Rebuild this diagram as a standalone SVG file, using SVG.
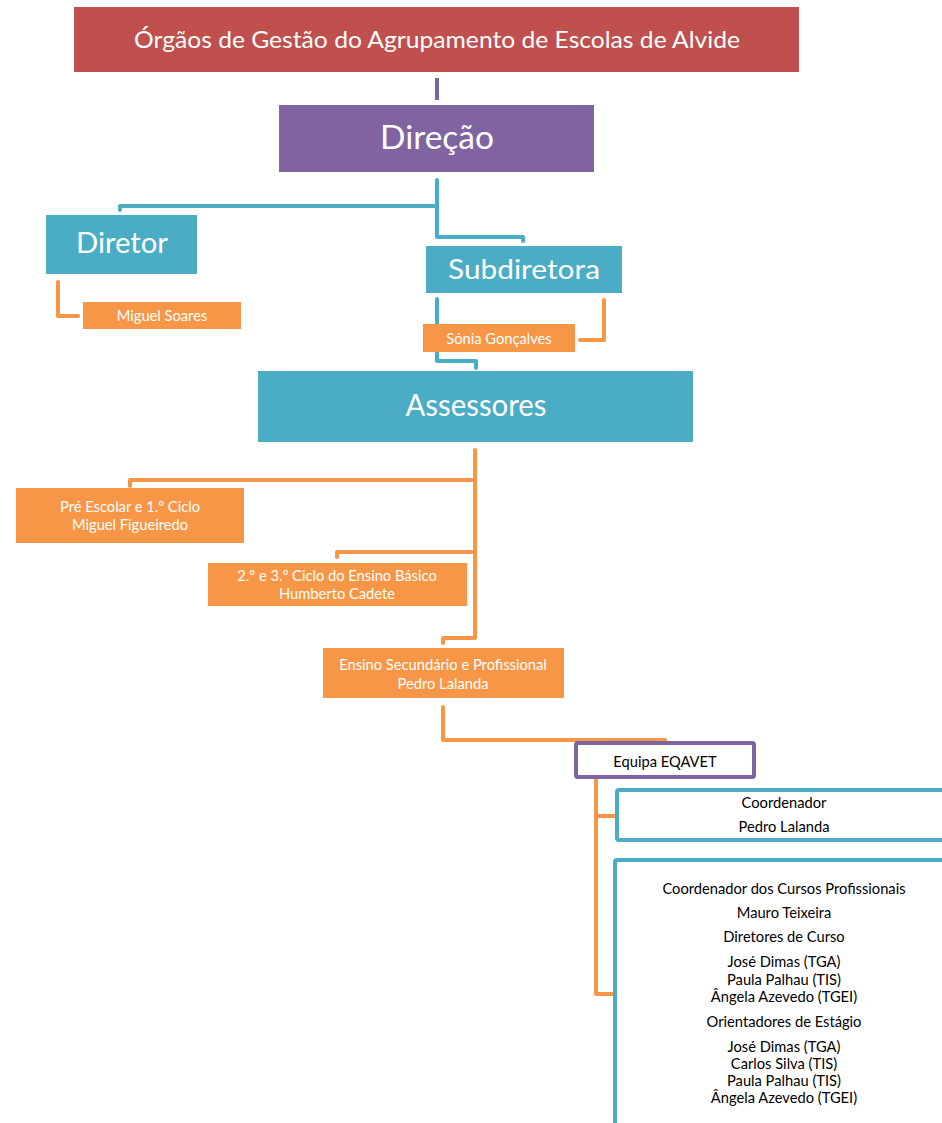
<svg xmlns="http://www.w3.org/2000/svg" width="942" height="1123" viewBox="0 0 942 1123">
<style>
text{font-family:Lato,"Open Sans","DejaVu Sans",sans-serif;text-anchor:middle}
.w{fill:#fff}
.k{fill:#000;font-size:14.7px}
.s{font-size:14.7px}
.red{fill:#C0504D}
.pur{fill:#8064A2}
.blu{fill:#4BACC6}
.org{fill:#F79646}
.cb{fill:none;stroke:#4BACC6;stroke-width:4;stroke-linejoin:round;stroke-linecap:round}
.co{fill:none;stroke:#F79646;stroke-width:4;stroke-linejoin:round;stroke-linecap:round}
.cp{fill:none;stroke:#8064A2;stroke-width:4}
.ob{fill:#fff;stroke:#4BACC6;stroke-width:4}
.op{fill:#fff;stroke:#8064A2;stroke-width:4}
</style>
<g id="connectors">
<path class="cp" d="M437,78 V100"/>
<path class="cb" d="M437,180 V237 H523 V241"/>
<path class="cb" d="M437,206 H120 V210"/>
<path class="co" d="M58,282 V316 H78"/>
<path class="cb" d="M437,299 V361 H476 V368"/>
<path class="co" d="M604,300 V340 H580"/>
<path class="co" d="M475,450 V638 H443 V643"/>
<path class="co" d="M475,480 H130 V486"/>
<path class="co" d="M475,552 H337 V557"/>
<path class="co" d="M443,707 V740 H665 V745"/>
<path class="co" d="M596,780 V994 H614"/>
<path class="co" d="M596,816 H617"/>
</g>
<g id="title">
<rect class="red" x="74" y="7" width="725" height="65"/>
<text class="w" x="437" y="48" font-size="24" textLength="606" lengthAdjust="spacingAndGlyphs">Órgãos de Gestão do Agrupamento de Escolas de Alvide</text>
</g>
<g id="direcao">
<rect class="pur" x="279" y="105" width="315" height="67"/>
<text class="w" x="437" y="149" font-size="32" textLength="114" lengthAdjust="spacingAndGlyphs">Direção</text>
</g>
<g id="diretor">
<rect class="blu" x="46" y="215" width="151" height="59"/>
<text class="w" x="122" y="253" font-size="28" textLength="92" lengthAdjust="spacingAndGlyphs">Diretor</text>
</g>
<g id="miguel-soares">
<rect class="org" x="83" y="302" width="158" height="27"/>
<text class="w s" x="162" y="321">Miguel Soares</text>
</g>
<g id="subdiretora">
<rect class="blu" x="426" y="246" width="196" height="47"/>
<text class="w" x="524" y="279" font-size="26" textLength="152" lengthAdjust="spacingAndGlyphs">Subdiretora</text>
</g>
<g id="sonia">
<rect class="org" x="423" y="324" width="152" height="28"/>
<text class="w s" x="499" y="344">Sónia Gonçalves</text>
</g>
<g id="assessores">
<rect class="blu" x="258" y="371" width="435" height="71"/>
<text class="w" x="476" y="416" font-size="30" textLength="141" lengthAdjust="spacingAndGlyphs">Assessores</text>
</g>
<g id="pre-escolar">
<rect class="org" x="16" y="488" width="228" height="55"/>
<text class="w s" x="130" y="512">Pré Escolar e 1.º Ciclo</text>
<text class="w s" x="130" y="530">Miguel Figueiredo</text>
</g>
<g id="ciclo23">
<rect class="org" x="208" y="563" width="259" height="43"/>
<text class="w s" x="337" y="581">2.º e 3.º Ciclo do Ensino Básico</text>
<text class="w s" x="337" y="599">Humberto Cadete</text>
</g>
<g id="secundario">
<rect class="org" x="323" y="648" width="241" height="50"/>
<text class="w s" x="443" y="670">Ensino Secundário e Profissional</text>
<text class="w s" x="443" y="689">Pedro Lalanda</text>
</g>
<g id="eqavet">
<rect class="op" x="576" y="743" width="178" height="34" rx="2"/>
<text class="k" x="665" y="767">Equipa EQAVET</text>
</g>
<g id="coordenador">
<rect class="ob" x="617" y="790" width="340" height="50" rx="2"/>
<text class="k" x="784" y="808">Coordenador</text>
<text class="k" x="784" y="832">Pedro Lalanda</text>
</g>
<g id="equipa-membros">
<rect class="ob" x="615" y="860" width="340" height="280" rx="2"/>
<text class="k" x="784" y="894">Coordenador dos Cursos Profissionais</text>
<text class="k" x="784" y="918">Mauro Teixeira</text>
<text class="k" x="784" y="942">Diretores de Curso</text>
<text class="k" x="784" y="967">José Dimas (TGA)</text>
<text class="k" x="784" y="985">Paula Palhau (TIS)</text>
<text class="k" x="784" y="1002">Ângela Azevedo (TGEI)</text>
<text class="k" x="784" y="1027">Orientadores de Estágio</text>
<text class="k" x="784" y="1052">José Dimas (TGA)</text>
<text class="k" x="784" y="1069">Carlos Silva (TIS)</text>
<text class="k" x="784" y="1086">Paula Palhau (TIS)</text>
<text class="k" x="784" y="1103">Ângela Azevedo (TGEI)</text>
</g>
</svg>
